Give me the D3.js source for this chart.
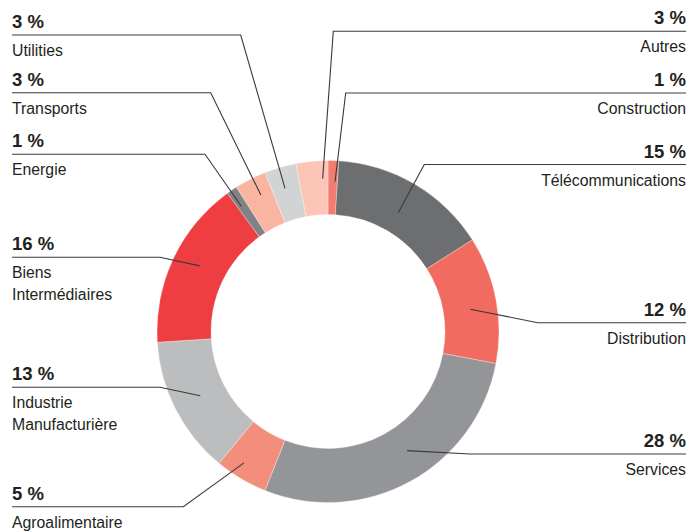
<!DOCTYPE html>
<html>
<head>
<meta charset="utf-8">
<script src="https://cdn.jsdelivr.net/npm/d3@7"></script>
<style>
  html, body { margin: 0; padding: 0; background: #fff; }
  svg { display: block; }
  .pct { font-family: "Liberation Sans", Arial, sans-serif; font-weight: bold; font-size: 18.5px; fill: #231f20; }
  .name { font-family: "Liberation Sans", Arial, sans-serif; font-size: 15.8px; fill: #231f20; }
</style>
</head>
<body>
<svg id="chart" width="688" height="531"></svg>
<script>
// Sector breakdown (share of total, %), clockwise from 12 o'clock
const categories = ["Construction", "Télécommunications", "Distribution", "Services",
  "Agroalimentaire", "Industrie Manufacturière", "Biens Intermédiaires",
  "Energie", "Transports", "Utilities", "Autres"];
const values = [1, 15, 12, 28, 5, 13, 16, 1, 3, 3, 3];
const labelLines = [["Construction"], ["Télécommunications"], ["Distribution"], ["Services"],
  ["Agroalimentaire"], ["Industrie", "Manufacturière"], ["Biens", "Intermédiaires"],
  ["Energie"], ["Transports"], ["Utilities"], ["Autres"]];
const colors = ["#f37b6f", "#6d6e70", "#f26b60", "#939598", "#f48e7c", "#bcbdbf",
  "#ef3e42", "#808285", "#f9b4a2", "#d1d3d4", "#fcc5b8"];

// Label placement: side, y of the rule under the percentage, x of the elbow,
// radius where the leader starts and a small angular nudge (degrees)
const labelLayout = [
  { side: "right", y: 93,    elbow: 345.7, r: 150, nudge: 0.9 },
  { side: "right", y: 164.5, elbow: 424.3, r: 138, nudge: 0 },
  { side: "right", y: 322.7, elbow: 537.7, r: 144, nudge: 1.9 },
  { side: "right", y: 454,   elbow: 470,   r: 143, nudge: -4.8 },
  { side: "left",  y: 506.7, elbow: 183.3, r: 156, nudge: 2 },
  { side: "left",  y: 387.3, elbow: 160,   r: 143, nudge: 0.3 },
  { side: "left",  y: 257.3, elbow: 160,   r: 144, nudge: 1.9 },
  { side: "left",  y: 154.3, elbow: 205,   r: 152, nudge: -0.5 },
  { side: "left",  y: 92.7,  elbow: 210.7, r: 152, nudge: 0.8 },
  { side: "left",  y: 35,    elbow: 240.7, r: 149.5, nudge: -0.5 },
  { side: "right", y: 31.3,  elbow: 333.3, r: 153, nudge: 3.4 }
];

const width = 688, height = 531;
const cx = 328, cy = 331.5;
const outerR = 171, innerR = 117;
const leftX = 12, rightX = 686;

const svg = d3.select("#chart");

const data = values.map((v, i) => ({ name: categories[i], value: v, color: colors[i],
  lines: labelLines[i], layout: labelLayout[i] }));

const pie = d3.pie().sort(null).value(d => d.value).startAngle(0).endAngle(2 * Math.PI);
const arc = d3.arc().innerRadius(innerR).outerRadius(outerR);
const arcs = pie(data);

const ring = svg.append("g").attr("transform", `translate(${cx},${cy})`);
ring.selectAll("path")
  .data(arcs)
  .join("path")
  .attr("d", arc)
  .attr("fill", d => d.data.color)
  .attr("stroke", "#ffffff")
  .attr("stroke-width", 0.3);

// Leader lines: from inside the slice to an elbow, then along the rule under the label
const leaders = svg.append("g")
  .attr("fill", "none")
  .attr("stroke", "#3a3a3a")
  .attr("stroke-width", 1.1);

arcs.forEach(a => {
  const L = a.data.layout;
  const mid = (a.startAngle + a.endAngle) / 2 + L.nudge * Math.PI / 180;
  const sx = cx + L.r * Math.sin(mid);
  const sy = cy - L.r * Math.cos(mid);
  const endX = L.side === "left" ? leftX : rightX;
  leaders.append("polyline")
    .attr("points", [[sx, sy], [L.elbow, L.y], [endX, L.y]].map(p => p.join(",")).join(" "));
});

// Labels: bold percentage above the rule, sector name below
const labels = svg.append("g");
arcs.forEach(a => {
  const L = a.data.layout;
  const x = L.side === "left" ? leftX : rightX;
  const anchor = L.side === "left" ? "start" : "end";
  labels.append("text")
    .attr("class", "pct")
    .attr("x", x)
    .attr("y", L.y - 7)
    .attr("text-anchor", anchor)
    .text(`${a.data.value} %`);
  a.data.lines.forEach((line, k) => {
    labels.append("text")
      .attr("class", "name")
      .attr("x", x)
      .attr("y", L.y + 21 + k * 22)
      .attr("text-anchor", anchor)
      .text(line);
  });
});
</script>
</body>
</html>
